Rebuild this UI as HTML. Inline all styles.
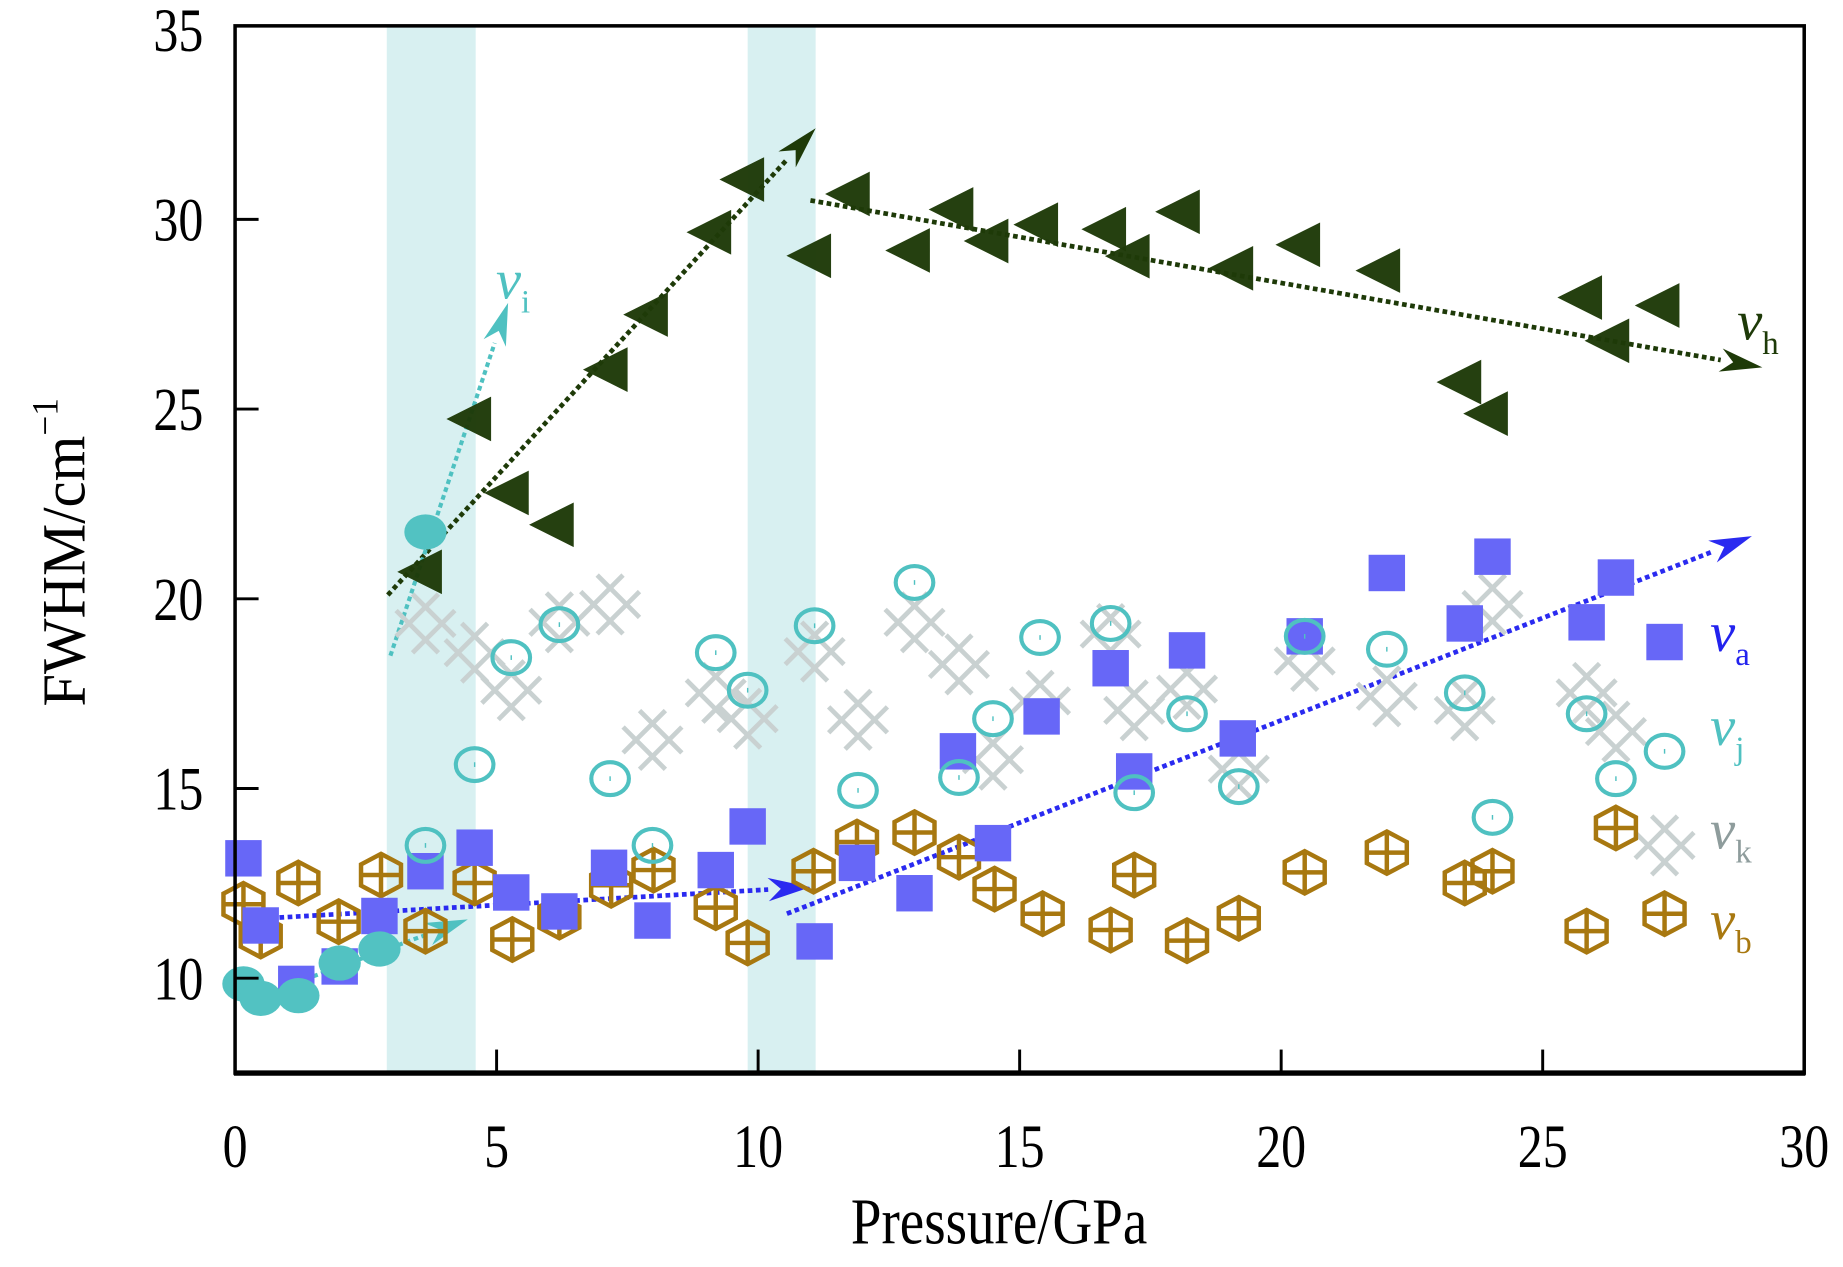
<!DOCTYPE html>
<html><head><meta charset="utf-8">
<style>
html,body{margin:0;padding:0;background:#fff;}
svg{display:block;}
text{font-family:"Liberation Serif",serif;}
</style></head>
<body>
<svg id="chart" width="1843" height="1267" viewBox="0 0 1568 1078" preserveAspectRatio="none" xmlns="http://www.w3.org/2000/svg">
<g id="bands"></g>
<g id="lines"></g>
<g id="marks"></g>
<g id="axes"></g>
</svg>
<script>
// ---- data ----
const xTicks = [0, 5, 10, 15, 20, 25, 30];
const yTicks = [10, 15, 20, 25, 30, 35];
const bands = [[2.9, 4.6], [9.8, 11.1]];

const hP = [3.55,4.49,5.21,6.07,7.10,7.87,9.08,9.71,10.99,11.73,12.88,13.71,14.38,15.33,16.63,17.08,18.04,19.06,20.34,21.87,23.42,23.93,25.73,26.25,27.21];
const hV = [20.71,24.74,22.79,21.95,26.04,27.49,29.66,31.05,29.04,30.67,29.18,30.26,29.43,29.86,29.74,29.03,30.20,28.71,29.33,28.65,25.71,24.88,27.94,26.80,27.73];

const aP = [0.16,0.49,1.17,2.00,2.76,3.64,4.58,5.28,6.20,7.15,7.98,9.19,9.80,11.08,11.89,12.99,13.82,14.49,15.42,16.74,17.19,18.20,19.17,20.45,22.02,23.51,24.04,25.84,26.40,27.33];
const aV = [13.16,11.39,9.85,10.31,11.64,12.82,13.44,12.26,11.76,12.91,11.52,12.85,14.0,10.97,13.04,12.24,15.98,13.56,16.90,18.17,15.45,18.64,16.32,19.01,20.68,19.35,21.11,19.38,20.56,18.86];

const bP = [0.16,0.49,1.21,1.98,2.79,3.64,4.58,5.30,6.20,7.19,8.0,9.19,9.80,11.06,11.89,12.99,13.84,14.52,15.44,16.74,17.19,18.20,19.19,20.45,22.02,23.51,24.04,25.84,26.40,27.33];
const bV = [11.95,11.11,12.51,11.49,12.72,11.24,12.51,11.02,11.61,12.45,12.85,11.86,10.93,12.82,13.59,13.84,13.19,12.35,11.70,11.27,12.72,10.99,11.58,12.79,13.31,12.51,12.82,11.24,13.96,11.70];

const jkP = [3.64,4.58,5.28,6.20,7.17,7.98,9.19,9.80,11.08,11.91,12.99,13.84,14.49,15.39,16.74,17.19,18.20,19.19,20.45,22.02,23.51,24.04,25.84,26.40,27.33];
const jV = [13.50,15.63,18.45,19.32,15.26,13.50,18.58,17.59,19.29,14.95,20.43,15.29,16.84,18.98,19.35,14.89,16.97,15.05,19.01,18.67,17.52,14.24,16.97,15.26,15.98];
const kV = [19.35,18.58,17.59,19.38,19.85,16.28,17.52,16.84,18.61,16.81,19.38,18.27,15.76,17.31,19.07,17.06,17.62,15.51,18.36,17.43,17.06,19.85,17.52,16.50,13.50];

const iP = [0.16,0.49,1.21,2.0,2.76,3.64];
const iV = [9.85,9.47,9.54,10.40,10.77,21.76];

// trend arrows [p1,v1,p2,v2]
const trendH1 = [2.92, 20.1, 11.1, 32.4];
const trendH2 = [11.0, 30.5, 29.2, 26.1];
const trendI1 = [2.97, 18.5, 5.22, 27.8];
const trendI2 = [1.2, 9.9, 4.45, 11.55];
const trendA1 = [0.22, 11.55, 11.0, 12.4];
const trendA2 = [10.55, 11.7, 29.0, 21.65];

// ---- axes ----
const L = 200, R = 1535, T = 22, B = 913;
const xMin = 0, xMax = 30, yMin = 7.5, yMax = 35.1;
const sx = p => L + (p - xMin) / (xMax - xMin) * (R - L);
const sy = v => B - (v - yMin) / (yMax - yMin) * (B - T);
const NS = "http://www.w3.org/2000/svg";
function mk(tag, attrs, parent) {
  const e = document.createElementNS(NS, tag);
  for (const k in attrs) e.setAttribute(k, attrs[k]);
  parent.appendChild(e);
  return e;
}
const gB = document.getElementById('bands'), gL = document.getElementById('lines'),
      gM = document.getElementById('marks'), gA = document.getElementById('axes');

bands.forEach(b => {
  const r = mk('rect', {x: sx(b[0]), y: T, width: sx(b[1]) - sx(b[0]), height: B - T, fill: '#d8f0f1'}, gB);
  
  
});

function arrow(t, color, w, name) {
  const x1 = sx(t[0]), y1 = sy(t[1]), x2 = sx(t[2]), y2 = sy(t[3]);
  const ang = Math.atan2(y2 - y1, x2 - x1), len = 36, hw = 10;
  const bx = x2 - len * Math.cos(ang), by = y2 - len * Math.sin(ang);
  const g = mk('g', {}, gL);
  
  
  mk('line', {x1, y1, x2: bx, y2: by, stroke: color, 'stroke-width': w, 'stroke-dasharray': '4 3'}, g);
  const px = -Math.sin(ang) * hw, py = Math.cos(ang) * hw;
  mk('polygon', {points: `${x2},${y2} ${bx + px},${by + py} ${bx + 0.3*(x2-bx)},${by + 0.3*(y2-by)} ${bx - px},${by - py}`, fill: color}, g);
}
arrow(trendH1, '#1e3a08', 4, 'trend-arrow-h-rise');
arrow(trendH2, '#1e3a08', 4, 'trend-arrow-h-fall');
arrow(trendI1, '#4fc1c1', 3.5, 'trend-arrow-i-rise');
arrow(trendI2, '#4fc1c1', 3.5, 'trend-arrow-i-low');
arrow(trendA1, '#2a2af0', 4, 'trend-arrow-a-low');
arrow(trendA2, '#2a2af0', 4, 'trend-arrow-a-high');

// markers
kV.forEach((v, i) => {
  const x = sx(jkP[i]), y = sy(v), d = 7, h = 18;
  const g = mk('g', {stroke: '#c9d1d1', 'stroke-width': 4, fill: 'none'}, gM);
  
  
  [-d, d].forEach(o => {
    mk('line', {x1: x - h + o, y1: y - h - o, x2: x + h + o, y2: y + h - o}, g);
    mk('line', {x1: x - h + o, y1: y + h + o, x2: x + h + o, y2: y - h + o}, g);
  });
});
bV.forEach((v, i) => {
  const x = sx(bP[i]), y = sy(v), rx = 17, ry = 18;
  const g = mk('g', {stroke: '#a87810', 'stroke-width': 3.8, fill: 'none'}, gM);
  
  
  mk('polygon', {points: `${x},${y-ry} ${x+rx},${y-ry/2} ${x+rx},${y+ry/2} ${x},${y+ry} ${x-rx},${y+ry/2} ${x-rx},${y-ry/2}`}, g);
  mk('line', {x1: x, y1: y - ry, x2: x, y2: y + ry}, g);
  mk('line', {x1: x - rx, y1: y, x2: x + rx, y2: y}, g);
});
aV.forEach((v, i) => {
  const x = sx(aP[i]), y = sy(v);
  const r = mk('rect', {x: x - 15.5, y: y - 15.5, width: 31, height: 31, fill: '#6767f7'}, gM);
  
  
});
jV.forEach((v, i) => {
  const x = sx(jkP[i]), y = sy(v);
  const g = mk('g', {}, gM);
  
  
  mk('ellipse', {cx: x, cy: y, rx: 16, ry: 14, fill: 'none', stroke: '#4fc1c1', 'stroke-width': 3.5}, g);
  mk('line', {x1: x, y1: y - 2, x2: x, y2: y + 2, stroke: '#4fc1c1', 'stroke-width': 1.2}, g);
});
iV.forEach((v, i) => {
  const e = mk('ellipse', {cx: sx(iP[i]), cy: sy(v), rx: 18, ry: 15, fill: '#52c2c2'}, gM);
  
  
});
hV.forEach((v, i) => {
  const x = sx(hP[i]), y = sy(v);
  const p = mk('polygon', {points: `${x-20},${y} ${x+18},${y-19} ${x+18},${y+19}`, fill: '#1e3a08', 'fill-opacity': 0.97}, gM);
  
  
});

// axes frame
const frame = mk('rect', {x: L, y: T, width: R - L, height: B - T, fill: 'none', stroke: '#000', 'stroke-width': 3}, gA);


mk('line', {x1: L - 1, y1: B, x2: R + 1, y2: B, stroke: '#000', 'stroke-width': 4.5}, gA);
xTicks.forEach(t => {
  const x = sx(t);
  if (t > xMin && t < xMax) mk('line', {x1: x, y1: B, x2: x, y2: B - 20, stroke: '#000', 'stroke-width': 2.5}, gA);
  const tx = mk('text', {x: 0, y: 0, 'font-size': 50, 'text-anchor': 'middle', fill: '#000', transform: `translate(${x},993) scale(0.85,1.05)`}, gA);
  tx.textContent = t;
  
  
});
yTicks.forEach(t => {
  const y = sy(t);
  if (t < 35) mk('line', {x1: L, y1: y, x2: L + 20, y2: y, stroke: '#000', 'stroke-width': 2.5}, gA);
  const tx = mk('text', {x: 0, y: 0, 'font-size': 50, 'text-anchor': 'end', fill: '#000', transform: `translate(173,${y + 18}) scale(0.85,1.05)`}, gA);
  tx.textContent = t;
  
  
});
</script>
<svg style="position:absolute;left:0;top:0" width="1843" height="1267" viewBox="0 0 1568 1078" preserveAspectRatio="none" xmlns="http://www.w3.org/2000/svg">
  <text transform="translate(850,1058) scale(0.9,1.08)" font-size="52" text-anchor="middle" font-family="Liberation Serif, serif">Pressure/GPa</text>
  <text transform="translate(72,470) rotate(-90) scale(1,1.05)" font-size="50" text-anchor="middle" font-family="Liberation Serif, serif">FWHM/cm<tspan font-size="30" dy="-22">−1</tspan></text>
  <g font-family="Liberation Serif, serif" font-style="italic" font-size="48">
    <text x="422" y="254" fill="#4fc1c1">ν<tspan font-style="normal" font-size="28" dy="12">i</tspan></text>
    <text x="1478" y="289" fill="#1e3a08">ν<tspan font-style="normal" font-size="28" dy="12">h</tspan></text>
    <text x="1455" y="554" fill="#2222ee">ν<tspan font-style="normal" font-size="28" dy="12">a</tspan></text>
    <text x="1455" y="634" fill="#4fc1c1">ν<tspan font-style="normal" font-size="28" dy="12">j</tspan></text>
    <text x="1455" y="722" fill="#8e9c9c">ν<tspan font-style="normal" font-size="28" dy="12">k</tspan></text>
    <text x="1455" y="799" fill="#a87810">ν<tspan font-style="normal" font-size="28" dy="12">b</tspan></text>
  </g>
</svg>
</body></html>
